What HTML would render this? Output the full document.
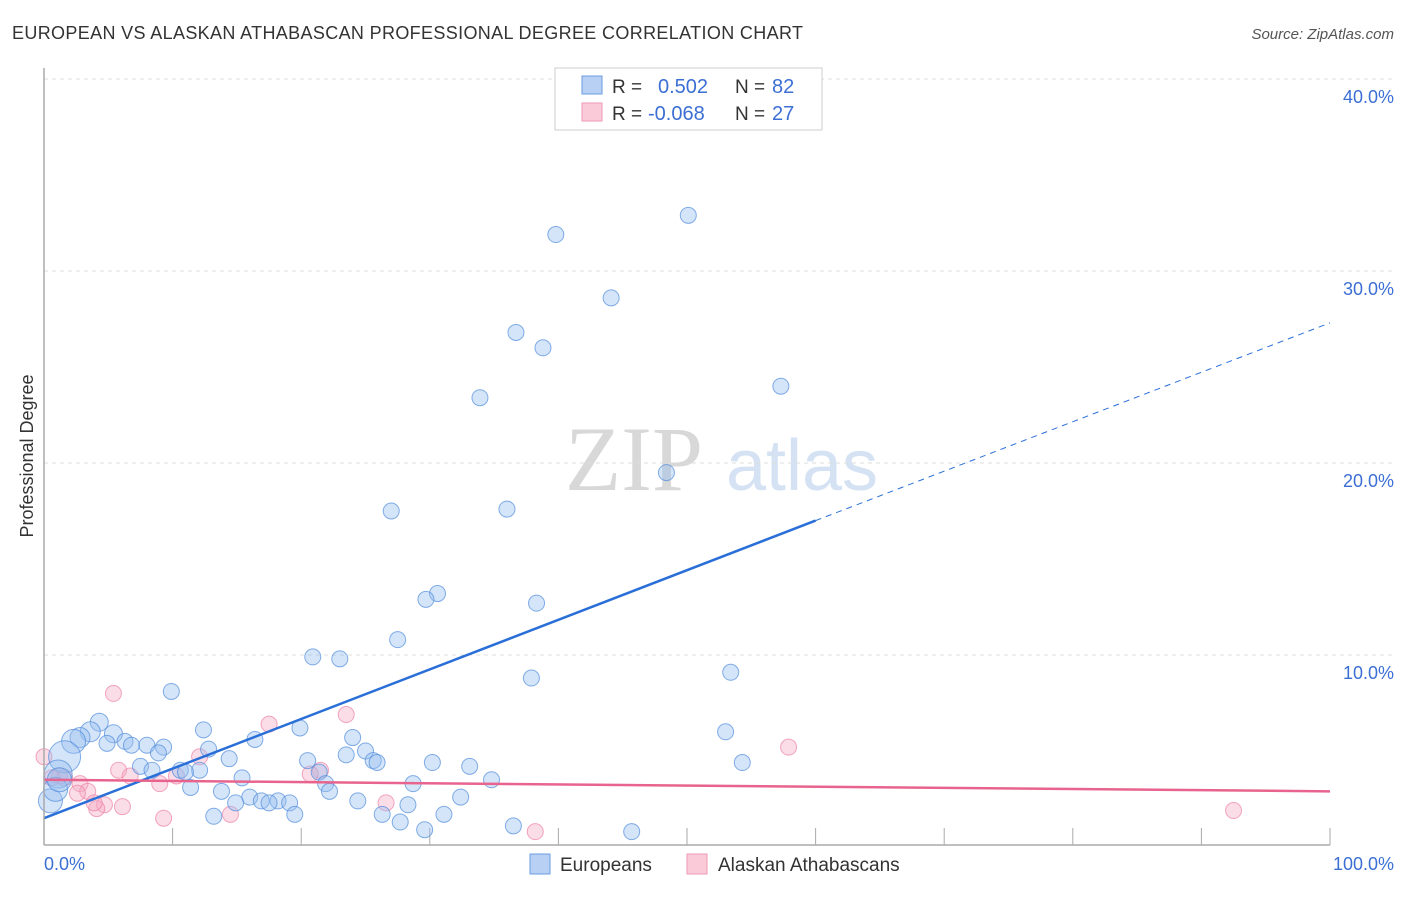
<!DOCTYPE html>
<html><head><meta charset="utf-8"><style>
body{margin:0;background:#fff;font-family:"Liberation Sans",sans-serif}
svg text{font-family:"Liberation Sans",sans-serif}
</style></head><body>
<svg width="1406" height="892" xmlns="http://www.w3.org/2000/svg">
<text x="12" y="39" font-size="18" fill="#333" letter-spacing="0.35">EUROPEAN VS ALASKAN ATHABASCAN PROFESSIONAL DEGREE CORRELATION CHART</text>
<text x="1394" y="39" font-size="15" fill="#555" font-style="italic" text-anchor="end">Source: ZipAtlas.com</text>
<text x="0" y="0" transform="translate(33,456) rotate(-90)" font-size="18" fill="#333" text-anchor="middle">Professional Degree</text>
<text x="634" y="490" font-size="92" fill="#d8d8d8" font-family="Liberation Serif" text-anchor="middle" style="font-family:'Liberation Serif',serif">ZIP</text>
<text x="802" y="490" font-size="72" fill="#d4e2f4" text-anchor="middle">atlas</text>
<g id="grid"></g><g id="ticks"></g><g id="pts"></g><g id="lines"></g>
<line x1="44" y1="68" x2="44" y2="845" stroke="#aaa" stroke-width="1.5"/>
<line x1="44" y1="845" x2="1330" y2="845" stroke="#aaa" stroke-width="1.5"/>
<text x="44" y="870" font-size="18" fill="#3b6fd4">0.0%</text>
<text x="1394" y="870" font-size="18" fill="#3b6fd4" text-anchor="end">100.0%</text>
<g>
<rect x="555" y="68" width="267" height="62" fill="#fff" stroke="#ccc"/>
<rect x="582" y="76" width="20" height="18" fill="#b8d0f4" stroke="#6b9be0"/>
<rect x="582" y="103" width="20" height="18" fill="#fbcad8" stroke="#ec9ab4"/>
<text x="612" y="93" font-size="19" fill="#333">R =</text>
<text x="658" y="93" font-size="20" fill="#3b6fd4">0.502</text>
<text x="735" y="93" font-size="19" fill="#333">N =</text>
<text x="772" y="93" font-size="20" fill="#3b6fd4">82</text>
<text x="612" y="120" font-size="19" fill="#333">R =</text>
<text x="648" y="120" font-size="20" fill="#3b6fd4">-0.068</text>
<text x="735" y="120" font-size="19" fill="#333">N =</text>
<text x="772" y="120" font-size="20" fill="#3b6fd4">27</text>
</g>
<g>
<rect x="530" y="854" width="20" height="20" fill="#b8d0f4" stroke="#6b9be0"/>
<text x="560" y="871" font-size="19" fill="#333">Europeans</text>
<rect x="687" y="854" width="20" height="20" fill="#fbcad8" stroke="#ec9ab4"/>
<text x="718" y="871" font-size="19" fill="#333">Alaskan Athabascans</text>
</g>
</svg>
<script>
const yTicks=[10,20,30,40];
const blueX=[50.1,39.8,44.1,36.7,38.8,57.3,33.9,48.4,27,36,30.6,29.7,38.3,27.5,20.9,23,53.4,37.9,9.9,4.3,12.4,53,19.9,3.6,2.8,5.4,6.3,4.9,6.8,8,9.3,2.3,16.4,24,12.8,8.9,1.6,25,14.4,20.5,23.5,25.6,25.9,30.2,54.3,33.1,7.5,8.4,10.6,12.1,11,1.1,15.4,21.4,21.9,34.8,28.7,11.4,22.2,13.8,32.4,16,14.9,16.9,18.2,19.1,17.5,24.4,28.3,19.5,26.3,31.1,13.2,27.7,36.5,29.6,45.7,0.5,0.9,1.2];
const blueY=[32.9,31.9,28.6,26.8,26,24,23.4,19.5,17.5,17.6,13.2,12.9,12.7,10.8,9.9,9.8,9.1,8.8,8.1,6.5,6.1,6,6.2,6,5.7,5.9,5.5,5.4,5.3,5.3,5.2,5.5,5.6,5.7,5.1,4.9,4.7,5,4.6,4.5,4.8,4.5,4.4,4.4,4.4,4.2,4.2,4,4,4,3.9,3.8,3.6,3.9,3.3,3.5,3.3,3.1,2.9,2.9,2.6,2.6,2.3,2.4,2.4,2.3,2.3,2.4,2.2,1.7,1.7,1.7,1.6,1.3,1.1,0.9,0.8,2.4,3,3.5];
const blueR=[8,8,8,8,8,8,8,8,8,8,8,8,8,8,8,8,8,8,8,9,8,8,8,10,10,9,8,8,8,8,8,12,8,8,8,8,16,8,8,8,8,8,8,8,8,8,8,8,8,8,8,14,8,8,8,8,8,8,8,8,8,8,8,8,8,8,8,8,8,8,8,8,8,8,8,8,8,12,12,12];
const pinkX=[5.4,17.5,23.5,57.9,12.1,5.8,6.7,10.3,21.5,20.7,9,2.8,3.4,0,1.2,1.6,4.7,6.1,4.1,3.9,2.6,26.6,14.5,9.3,38.2,92.5,0.6];
const pinkY=[8,6.4,6.9,5.2,4.7,4,3.7,3.7,4,3.8,3.3,3.3,2.9,4.7,3.7,3.6,2.2,2.1,2,2.3,2.8,2.3,1.7,1.5,0.8,1.9,3.6];
const blueFit=[1.5,17.0,27.3];
const pinkFit=[3.5,2.9];
const NS='http://www.w3.org/2000/svg';
const X=v=>44+v*12.86, Y=v=>847-v*19.2;
function mk(tag,attrs,parent){const e=document.createElementNS(NS,tag);for(const k in attrs)e.setAttribute(k,attrs[k]);document.getElementById(parent).appendChild(e);return e;}
yTicks.forEach(t=>{
 const l=mk('line',{x1:44,x2:1394,y1:Y(t),y2:Y(t),stroke:'#ddd','stroke-dasharray':'4,4'},'grid');
 
 
 const tx=mk('text',{x:1394,y:Y(t)+24,'font-size':18,fill:'#3b6fd4','text-anchor':'end'},'grid');
 tx.textContent=t.toFixed(1)+'%';
 
 
});
for(let i=1;i<=10;i++){
 const l=mk('line',{x1:X(i*10),x2:X(i*10),y1:828,y2:845,stroke:'#aaa'},'ticks');
 
 
}
pinkX.forEach((x,i)=>{
 const c=mk('circle',{cx:X(x),cy:Y(pinkY[i]),r:8,fill:'rgba(246,170,195,0.4)',stroke:'rgba(236,130,165,0.7)'},'pts');
 
 
});
blueX.forEach((x,i)=>{
 const c=mk('circle',{cx:X(x),cy:Y(blueY[i]),r:blueR[i],fill:'rgba(150,190,240,0.4)',stroke:'rgba(80,140,220,0.7)'},'pts');
 
 
});
let l=mk('line',{x1:X(0),y1:Y(blueFit[0]),x2:X(60),y2:Y(blueFit[1]),stroke:'#2a6fd8','stroke-width':2.5},'lines');


l=mk('line',{x1:X(60),y1:Y(blueFit[1]),x2:X(100),y2:Y(blueFit[2]),stroke:'#2a6fd8','stroke-width':1,'stroke-dasharray':'6,5'},'lines');


l=mk('line',{x1:X(0),y1:Y(pinkFit[0]),x2:X(100),y2:Y(pinkFit[1]),stroke:'#e8648e','stroke-width':2.5},'lines');


</script>
</body></html>
